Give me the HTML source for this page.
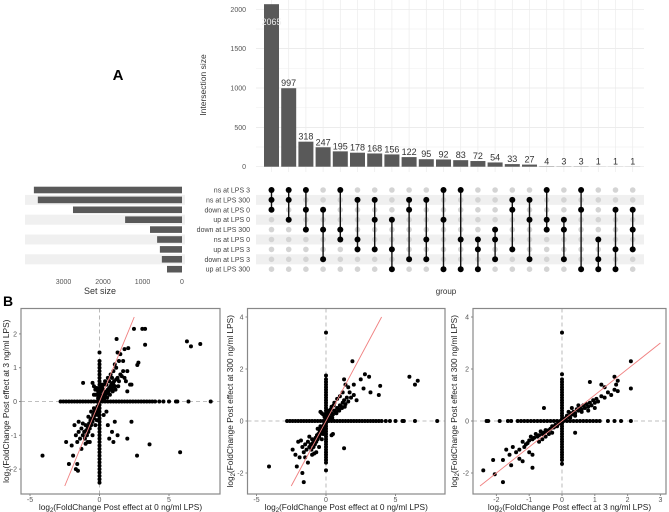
<!DOCTYPE html>
<html><head><meta charset="utf-8"><style>
html,body{margin:0;padding:0;background:#fff;}
svg{display:block;font-family:"Liberation Sans",sans-serif;}
</style></head><body>
<svg id="c" width="669" height="512" viewBox="0 0 669 512"></svg>
<script>
// ---------- UpSet data ----------
const intersectionSizes=[2065,997,318,247,195,178,168,156,122,95,92,83,72,54,33,27,4,3,3,1,1,1];
const setNames=["ns at LPS 3","ns at LPS 300","down at LPS 0","up at LPS 0","down at LPS 300","ns at LPS 0","up at LPS 3","down at LPS 3","up at LPS 300"];
const setSizes=[3750,3650,2760,1440,810,630,560,510,380];
const memberships=[[0,1,2],[0,1,3],[0,2,4],[2,4,7],[0,4,5],[1,5,6],[1,3,6],[3,6,8],[1,2,7],[1,5,7],[0,3,8],[0,5,8],[5,6,8],[4,5,7],[1,2,6],[1,3,7],[0,3,4],[3,4,7],[0,2,8],[5,7,8],[2,6,8],[2,4,6]];
const barTicks=[0,500,1000,1500,2000];
const setTicks=[0,1000,2000,3000];
// ---------- scatter data ----------
const p1Points=[[0.1,0.05],[0.15,0.1],[0.2,0.15],[0.25,0.1],[0.3,0.2],[0.35,0.15],[0.4,0.25],[0.45,0.2],[0.5,0.3],[0.55,0.25],[0.6,0.35],[0.65,0.3],[0.7,0.4],[0.75,0.35],[0.8,0.45],[0.85,0.5],[0.9,0.4],[0.95,0.55],[1.0,0.5],[1.05,0.6],[1.1,0.45],[1.2,0.65],[1.3,0.7],[1.4,0.6],[1.5,0.8],[1.6,0.75],[1.7,0.9],[1.8,0.7],[1.9,0.6],[2.0,0.9],[2.2,0.5],[1.2,1.0],[1.0,0.9],[0.8,0.8],[1.4,1.2],[1.5,1.4],[1.7,1.2],[1.1,1.1],[0.3,0.5],[0.2,0.4],[0.4,0.6],[0.6,0.7],[0.1,0.3],[0.15,0.5],[-0.1,0.1],[-0.2,0.2],[-0.3,0.35],[-0.4,0.45],[-0.3,0.2],[-0.2,0.4],[-0.1,0.3],[-0.4,0.2],[0.05,0.2],[0.25,0.35],[0.5,0.5],[0.7,0.6],[0.9,0.7],[0.35,0.08],[0.55,0.12],[0.75,0.2],[0.95,0.3],[1.15,0.35],[1.35,0.45],[2.3,0.5],[2.0,0.3],[-0.5,0.55],[1.3,1.45],[1.8,1.55],
[2.48,2.15],[3.08,2.15],[3.28,2.15],[3.28,1.68],[1.23,1.85],[2.07,1.58],[2.72,1.08],[2.8,1.15],[6.58,1.63],[6.29,1.78],[7.25,1.7],[-1.18,0.55],
[-0.05,-0.1],[-0.1,-0.2],[-0.15,-0.15],[-0.2,-0.3],[-0.25,-0.25],[-0.3,-0.4],[-0.35,-0.3],[-0.4,-0.5],[-0.45,-0.4],[-0.5,-0.6],[-0.55,-0.5],[-0.6,-0.7],[-0.65,-0.55],[-0.7,-0.8],[-0.75,-0.65],[-0.8,-0.9],[-0.85,-0.75],[-0.9,-1.0],[-0.95,-0.85],[-1.0,-0.7],[-1.05,-1.1],[-1.1,-0.9],[-1.2,-1.0],[-1.3,-0.8],[-1.4,-1.1],[-1.5,-0.9],[-1.6,-1.2],[-1.7,-1.0],[-1.8,-0.7],[-1.5,-0.6],[-1.2,-0.65],[-0.7,-1.2],[-0.5,-1.0],[-0.3,-0.7],[-0.2,-0.55],[-0.1,-0.4],[-0.6,-0.3],[-0.4,-0.2],[-0.8,-0.45],[-1.0,-1.25],[-0.85,-1.2],[-2.0,-1.3],[-1.9,-1.6],[-2.4,-1.2],[-1.7,-2.0],[-1.55,-2.05],[-2.2,-1.85],[-1.6,-1.85],[-4.1,-1.6],[-1.3,-1.4],
[0.3,-0.4],[0.6,-0.7],[0.9,-0.9],[1.0,-1.2],[1.3,-1.0],[2.0,-1.1],[2.3,-0.6],[1.1,-0.6],[0.7,-1.1],[2.7,-1.6],[3.6,-1.27],[5.8,-1.5],[0.5,-0.3]];
const p1VStripe=[-2.4,-2.3,-2.2,-2.1,-2.0,-1.9,-1.8,-1.7,-1.6,-1.5,-1.4,-1.3,-1.2,-1.1,-1.0,-0.9,-0.8,-0.7,-0.6,-0.5,-0.4,-0.3,-0.2,-0.1,0.1,0.2,0.3,0.4,0.5,0.6,0.7,0.8,0.9,1.0,1.1,1.2,1.45];
const p1HStripe=[-2.8,-2.6,-2.4,-2.2,-2.0,-1.8,-1.6,-1.4,-1.2,-1.0,-0.8,-0.6,-0.4,-0.2,0,0.2,0.4,0.6,0.8,1.0,1.2,1.4,1.6,1.8,2.0,2.2,2.4,2.6,2.8,3.0,3.2,3.4,3.6,3.8,4.0,4.3,4.6,5.0,5.5,5.6,6.4,8.0];
const p2Points=[[0.1,0.1],[0.2,0.2],[0.3,0.15],[0.4,0.3],[0.5,0.25],[0.6,0.4],[0.7,0.35],[0.8,0.5],[0.9,0.45],[1.0,0.6],[1.1,0.55],[1.2,0.7],[1.3,0.8],[1.4,0.65],[1.5,0.9],[1.6,0.75],[1.8,0.9],[2.0,1.0],[2.2,0.8],[0.2,0.4],[0.4,0.55],[0.6,0.7],[0.8,0.85],[1.0,0.95],[1.2,1.1],[0.15,0.3],[0.35,0.45],[0.55,0.6],[0.75,0.3],[0.95,0.4],[1.15,0.5],[1.35,0.55],[0.25,0.08],[0.45,0.12],[-0.1,0.15],[-0.2,0.25],[-0.3,0.3],[-0.4,0.35],[1.7,1.1],[1.4,1.4],
[1.9,2.3],[2.8,1.8],[3.1,1.7],[2.5,1.6],[2.7,1.25],[3.2,1.1],[3.8,1.0],[3.9,1.35],[6.0,1.7],[6.6,1.55],[6.4,1.4],[1.3,1.6],[1.6,1.3],[2.0,1.4],
[-0.05,-0.1],[-0.1,-0.2],[-0.15,-0.15],[-0.2,-0.3],[-0.25,-0.25],[-0.3,-0.4],[-0.35,-0.3],[-0.4,-0.5],[-0.45,-0.4],[-0.5,-0.6],[-0.55,-0.5],[-0.6,-0.7],[-0.65,-0.55],[-0.7,-0.8],[-0.75,-0.65],[-0.8,-0.9],[-0.85,-0.75],[-0.9,-1.0],[-0.95,-0.85],[-1.0,-0.7],[-1.05,-1.1],[-1.1,-0.9],[-1.2,-1.0],[-1.3,-0.8],[-1.4,-1.1],[-1.5,-0.9],[-1.6,-1.2],[-1.7,-1.0],[-1.8,-0.75],[-1.2,-0.6],[-0.7,-1.2],[-0.5,-1.0],[-0.3,-0.7],[-0.2,-0.5],[-0.1,-0.4],[-0.6,-0.3],[-0.4,-0.2],[-1.0,-1.3],[-0.85,-1.25],[-1.5,-1.4],
[-4.1,-1.75],[-1.6,-2.35],[-1.7,-2.0],[-2.1,-1.75],[-2.4,-1.1],[-2.2,-1.3],[-1.9,-1.4],[-2.0,-0.8],[-1.3,-1.6],
[1.3,-1.05],[0.5,-0.5],[0.4,-0.55]];
const p2VStripe=[-1.9,-1.6,-1.5,-1.4,-1.3,-1.2,-1.1,-1.0,-0.9,-0.8,-0.7,-0.6,-0.5,-0.4,-0.3,-0.2,-0.1,0.1,0.2,0.3,0.4,0.5,0.6,0.7,0.8,0.9,1.0,1.1,1.2,1.3,1.4,1.5,1.6,1.75,3.4];
const p2HStripe=[-2.8,-2.6,-2.4,-2.2,-2.0,-1.8,-1.6,-1.4,-1.2,-1.0,-0.8,-0.6,-0.4,-0.2,0,0.2,0.4,0.6,0.8,1.0,1.2,1.4,1.6,1.8,2.0,2.2,2.4,2.6,2.8,3.0,3.2,3.4,3.6,3.8,4.0,4.3,4.6,5.0,5.5,5.6,6.4,8.0];
const p3Points=[[0.1,0.1],[0.15,0.2],[0.2,0.15],[0.25,0.3],[0.3,0.25],[0.35,0.35],[0.4,0.3],[0.45,0.45],[0.5,0.4],[0.55,0.5],[0.6,0.45],[0.65,0.6],[0.7,0.5],[0.75,0.65],[0.8,0.55],[0.85,0.7],[0.9,0.6],[0.95,0.8],[1.0,0.7],[1.05,0.85],[1.1,0.75],[1.2,0.95],[1.3,0.9],[1.4,1.1],[1.5,1.0],[1.6,1.2],[1.7,1.15],[0.2,0.35],[0.3,0.5],[0.5,0.6],[0.6,0.35],[0.8,0.4],[1.0,0.5],[0.4,0.2],[0.25,0.12],[0.85,1.5],[1.2,1.4],[1.3,1.3],[1.65,1.4],[1.7,1.55],
[2.1,2.3],[2.1,1.25],[1.6,1.7],[-0.55,0.5],[0.4,-0.45],
[-0.1,-0.1],[-0.15,-0.2],[-0.2,-0.15],[-0.25,-0.25],[-0.3,-0.2],[-0.35,-0.3],[-0.4,-0.35],[-0.45,-0.4],[-0.5,-0.35],[-0.55,-0.45],[-0.6,-0.5],[-0.65,-0.4],[-0.7,-0.55],[-0.75,-0.6],[-0.8,-0.5],[-0.85,-0.65],[-0.9,-0.7],[-0.95,-0.6],[-1.0,-0.75],[-1.05,-0.85],[-1.1,-0.9],[-1.15,-1.0],[-1.2,-0.8],[-1.3,-1.1],[-1.4,-1.2],[-1.5,-1.0],[-1.6,-1.3],[-1.7,-1.1],[-1.8,-1.5],[-1.3,-1.45],[-1.2,-1.55],[-0.9,-1.3],[-1.0,-1.2],[-0.7,-0.8],[-0.5,-0.6],[-0.3,-0.45],[-0.4,-0.5],[-0.6,-0.7],
[-2.4,-1.9],[-2.05,-2.05],[-2.1,-1.5],[-1.8,-2.35],[-0.9,-1.8],[-1.55,-1.7]];
const p3VStripe=[-1.65,-1.5,-1.4,-1.3,-1.2,-1.1,-1.0,-0.9,-0.8,-0.7,-0.6,-0.5,-0.4,-0.3,-0.2,-0.1,0.1,0.2,0.3,0.4,0.5,0.6,0.7,0.8,0.9,1.0,1.1,1.2,1.3,1.4,1.5,1.6,1.8,3.4];
const p3HStripe=[-2.3,-2.25,-1.9,-1.65,-1.55,-1.35,-1.25,-1.15,-1.05,-0.95,-0.85,-0.75,-0.65,-0.55,-0.45,-0.35,-0.25,-0.15,-0.05,0.05,0.15,0.25,0.35,0.45,0.55,0.65,0.75,0.85,0.95,1.05,1.15,1.4,1.6,1.8,2.1];
const p1XTicks=[-5,0,5], p1YTicks=[-2,-1,0,1,2];
const p2XTicks=[-5,0,5], p2YTicks=[-2,0,2,4];
const p3XTicks=[-2,-1,0,1,2,3], p3YTicks=[-2,0,2,4];

const NS="http://www.w3.org/2000/svg";
const svg=document.getElementById('c');
function mk(tag,attrs,parent,text){const e=document.createElementNS(NS,tag);for(const k in attrs)e.setAttribute(k,attrs[k]);if(text!==undefined)e.textContent=text;(parent||svg).appendChild(e);return e;}

// ---------- UpSet ----------
const colX=i=>271.5+17.2*i;
const barY=v=>166.7-v*0.0787;
const rowY=r=>190+9.9*r;
const setX=v=>182-v*0.0395;
for(let r=1;r<9;r+=2){
  const s1=mk('rect',{x:25,y:rowY(r)-5,width:160,height:10,fill:'#f0f0f0'});
  
  
  const s2=mk('rect',{x:256,y:rowY(r)-5,width:388,height:10,fill:'#f0f0f0'});
  
  
}
for(let t=0;t<=2000;t+=250){const g=mk('line',{x1:256,x2:644,y1:barY(t),y2:barY(t),stroke:t%500?'#f2f2f2':'#e6e6e6','stroke-width':0.7});
  }
for(let i=0;i<intersectionSizes.length;i++){const g=mk('line',{x1:colX(i),x2:colX(i),y1:0,y2:172,stroke:'#ececec','stroke-width':0.7});
  }
barTicks.forEach(t=>{const e=mk('text',{x:246,y:barY(t)+2.5,'font-size':7,fill:'#555','text-anchor':'end'},svg,t);
  });
const yt=mk('text',{x:206,y:85,'font-size':8.5,fill:'#333','text-anchor':'middle',transform:'rotate(-90 206 85)'},svg,'Intersection size');

intersectionSizes.forEach((v,i)=>{
  const y=Math.max(barY(v),2);
  const b=mk('rect',{x:colX(i)-7.5,y:y,width:15,height:166.7-y,fill:'#595959'});
  
  const inside=barY(v)<20;
  const l=mk('text',{x:colX(i),y:inside?barY(v)+21:barY(v)-2,'font-size':9,fill:inside?'#eee':'#333','text-anchor':'middle'},svg,v);
  
});
setNames.forEach((n,r)=>{const t=mk('text',{x:250,y:rowY(r)+2.5,'font-size':7,fill:'#444','text-anchor':'end'},svg,n);
  });
memberships.forEach((m,i)=>{
  for(let r=0;r<9;r++){if(!m.includes(r)){const d=mk('circle',{cx:colX(i),cy:rowY(r),r:2.8,fill:'#d4d4d4'});
    }}
  const mn=Math.min(...m),mx=Math.max(...m);
  const ln=mk('line',{x1:colX(i),x2:colX(i),y1:rowY(mn),y2:rowY(mx),stroke:'#111','stroke-width':1.4});
  
  m.forEach(r=>{const d=mk('circle',{cx:colX(i),cy:rowY(r),r:3,fill:'#000'});
    });
});
setSizes.forEach((v,r)=>{const b=mk('rect',{x:setX(v),y:rowY(r)-3.3,width:182-setX(v),height:6.6,fill:'#595959'});
  });
setTicks.forEach(t=>{const e=mk('text',{x:setX(t),y:284,'font-size':7,fill:'#555','text-anchor':'middle'},svg,t);
  });
const ss=mk('text',{x:100,y:294,'font-size':9,fill:'#333','text-anchor':'middle'},svg,'Set size');

const gp=mk('text',{x:446,y:294,'font-size':8,fill:'#333','text-anchor':'middle'},svg,'group');

const la=mk('text',{x:118,y:80,'font-size':15,'font-weight':'bold',fill:'#000','text-anchor':'middle'},svg,'A');

const lb=mk('text',{x:3,y:306,'font-size':14,'font-weight':'bold',fill:'#000'},svg,'B');


// ---------- scatter panels ----------
function panel(o){
  const X=v=>o.x0+v*o.kx, Y=v=>o.y0-v*o.ky;
  const g=mk('g',{});
  
  
  mk('line',{x1:X(0),x2:X(0),y1:o.top,y2:o.bot,stroke:'#aaa','stroke-width':0.8,'stroke-dasharray':'4 3'},g);
  mk('line',{x1:o.left,x2:o.right,y1:Y(0),y2:Y(0),stroke:'#aaa','stroke-width':0.8,'stroke-dasharray':'4 3'},g);
  const dot=(x,y)=>{const c=mk('circle',{cx:X(x),cy:Y(y),r:2,fill:'#000'},g);
    };
  o.vs.forEach(y=>dot(0,y));
  o.hs.forEach(x=>dot(x,0));
  o.pts.forEach(p=>dot(p[0],p[1]));
  const fl=mk('line',{x1:X(o.l0),y1:Y(o.l0),x2:X(o.l1),y2:Y(o.l1),stroke:'#f08080','stroke-width':0.9},g);
  
  const bx=mk('rect',{x:o.left,y:o.top,width:o.right-o.left,height:o.bot-o.top,fill:'none',stroke:'#888','stroke-width':1.2},g);
  
  o.xt.forEach(t=>{mk('line',{x1:X(t),x2:X(t),y1:o.bot,y2:o.bot+2,stroke:'#888'},g);
    const e=mk('text',{x:X(t),y:o.bot+8,'font-size':7,fill:'#555','text-anchor':'middle'},g,t);
    });
  o.yt.forEach(t=>{mk('line',{x1:o.left-2,x2:o.left,y1:Y(t),y2:Y(t),stroke:'#888'},g);
    const e=mk('text',{x:o.left-4,y:Y(t)+2.5,'font-size':7,fill:'#555','text-anchor':'end'},g,t);
    });
  const xl=mk('text',{x:(o.left+o.right)/2,y:o.bot+16,'font-size':8.3,fill:'#222','text-anchor':'middle'},g);
  xl.innerHTML='log<tspan font-size="6" dy="2">2</tspan><tspan dy="-2">(FoldChange Post effect at '+o.xlab+' ng/ml LPS)</tspan>';
  
  const cy=(o.top+o.bot)/2;
  const yl=mk('text',{x:o.ylx,y:cy,'font-size':8.3,fill:'#222','text-anchor':'middle',transform:`rotate(-90 ${o.ylx} ${cy})`},g);
  yl.innerHTML='log<tspan font-size="6" dy="2">2</tspan><tspan dy="-2">(FoldChange Post effect at '+o.ylab+' ng/ml LPS)</tspan>';
  
}
panel({name:'scatter-panel-1',left:21,right:220,top:308.5,bot:494,x0:99.5,kx:13.9,y0:401.5,ky:33.8,pts:p1Points,vs:p1VStripe,hs:p1HStripe,l0:-2.5,l1:2.5,xt:p1XTicks,yt:p1YTicks,xlab:'0',ylab:'3',ylx:9});
panel({name:'scatter-panel-2',left:247.5,right:445,top:308.5,bot:494,x0:326,kx:13.9,y0:421,ky:26,pts:p2Points,vs:p2VStripe,hs:p2HStripe,l0:-2.5,l1:4,xt:p2XTicks,yt:p2YTicks,xlab:'0',ylab:'300',ylx:233});
panel({name:'scatter-panel-3',left:473,right:666,top:308.5,bot:494,x0:562,kx:32.8,y0:421,ky:26,pts:p3Points,vs:p3VStripe,hs:p3HStripe,l0:-2.5,l1:3,xt:p3XTicks,yt:p3YTicks,xlab:'3',ylab:'300',ylx:457});
</script>
</body></html>
